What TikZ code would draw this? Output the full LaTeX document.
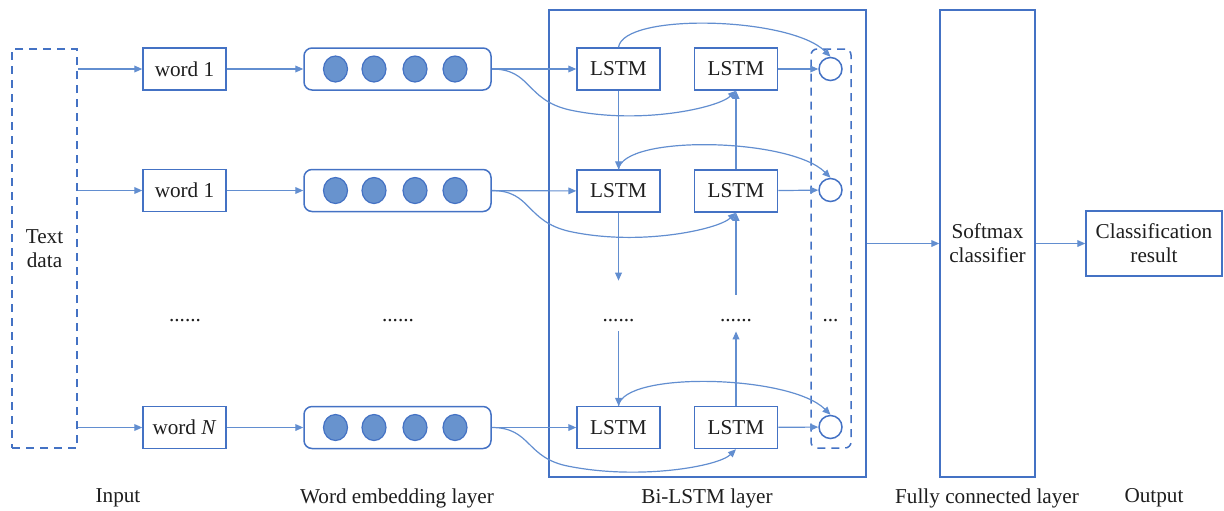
\documentclass[tikz,border=0pt]{standalone}
\usepackage{fontspec}
\setmainfont{Liberation Serif}
\usetikzlibrary{arrows.meta,shapes.geometric}
\definecolor{bord}{RGB}{68,114,196}
\definecolor{arrc}{RGB}{98,142,208}
\definecolor{dotf}{RGB}{104,147,206}
\definecolor{txt}{RGB}{30,30,30}
\begin{document}
\begin{tikzpicture}[x=0.5pt,y=-0.5pt,
  every node/.style={text=txt,font=\fontsize{10.6}{12}\selectfont},
  box/.style={draw=bord,line width=0.75pt,minimum width=41.5pt,minimum height=21pt,inner sep=0pt},
  dbox/.style={draw=bord,line width=0.75pt,dashed,dash pattern=on 4pt off 3pt,minimum width=32.5pt,minimum height=199.5pt,inner sep=0pt,align=center},
  embox/.style={draw=bord,line width=0.75pt,rounded corners=4pt,minimum width=93.5pt,minimum height=21pt,inner sep=0pt},
  emdot/.style={ellipse,draw=bord,line width=0.6pt,fill=dotf,minimum width=12pt,minimum height=13pt,inner sep=0pt},
  outc/.style={circle,draw=bord,line width=0.75pt,minimum size=11.5pt,inner sep=0pt},
  bigbox/.style={draw=bord,line width=0.75pt,minimum width=158.5pt,minimum height=233.5pt,inner sep=0pt},
  dots/.style={minimum height=10pt,inner sep=0pt},
  arr/.style={draw=arrc,line width=0.6pt,-{Triangle[length=4pt,width=3.4pt]}},
  lbl/.style={inner sep=0pt}
]
\useasboundingbox (0,0) rectangle (1224,510);

% input
\node[dbox] (text) at (44.5,248.5) {Text\\data};
\node[box] (w1) at (184.5,69) {word 1};
\node[box] (w2) at (184.5,190.5) {word 1};
\node[box] (wN) at (184.5,427.5) {word \textit{N}};
\node[dots] (wd) at (185,321) {......};

% embedding
\foreach \n/\y in {1/69,2/190.5,N/427.5}{
  \node[embox] (e\n) at (397.5,\y) {};
  \node[emdot] (c\n a) at (335.5,\y) {};
  \node[emdot] (c\n b) at (374,\y) {};
  \node[emdot] (c\n c) at (415,\y) {};
  \node[emdot] (c\n d) at (455,\y) {};
}
\node[dots] (ed) at (398,321) {......};

% Bi-LSTM
\node[bigbox] (bi) at (707.5,243.5) {};
\node[box] (f1) at (618.5,69) {LSTM};
\node[box] (b1) at (736,69) {LSTM};
\node[box] (f2) at (618.5,191) {LSTM};
\node[box] (b2) at (736,191) {LSTM};
\node[box] (fN) at (618.5,427.5) {LSTM};
\node[box] (bN) at (736,427.5) {LSTM};
\node[dots] (fd) at (618.5,321) {......};
\node[dots] (bd) at (736,321) {......};
\node[dots] (od) at (830.5,321) {...};
\node[draw=bord,line width=0.75pt,dashed,dash pattern=on 4pt off 3pt,rounded corners=3pt,minimum width=20pt,minimum height=199.5pt,inner sep=0pt] (obox) at (831,248.5) {};
\node[outc] (o1) at (830.5,69) {};
\node[outc] (o2) at (830.5,190) {};
\node[outc] (oN) at (830.5,427) {};

% fully connected / output
\node[draw=bord,line width=0.75pt,minimum width=47.5pt,minimum height=233.5pt,inner sep=0pt,align=center] (soft) at (987.5,243.5) {Softmax\\classifier};
\node[draw=bord,line width=0.75pt,minimum width=68pt,minimum height=32.5pt,inner sep=0pt,align=center] (res) at (1154,243.5) {Classification\\result};

% bottom labels
\node[lbl] (l1) at (118,498) {Input};
\node[lbl] (l2) at (397,498) {Word embedding layer};
\node[lbl] (l3) at (707,498) {Bi-LSTM layer};
\node[lbl] (l4) at (987,498) {Fully connected layer};
\node[lbl] (l5) at (1154,498) {Output};

% input arrows
\foreach \n in {1,2,N}{
  \draw[arr] (text.east |- w\n) -- (w\n);
  \draw[arr] (w\n) -- (e\n);
  \draw[arr] (e\n) -- (f\n);
  \draw[arr] (b\n) -- (o\n);
}
% curves embedding -> backward LSTM
\draw[arr] (e1.east) .. controls (532,69) and (525,100) .. (570,110) .. controls (640,125) and (718,108) .. (b1.south);
\draw[arr] (e2.east) .. controls (532,190.5) and (525,221.5) .. (570,231.5) .. controls (640,246.5) and (718,229.5) .. (b2.south);
\draw[arr] (eN.east) .. controls (532,427.5) and (525,458.5) .. (570,466.5) .. controls (640,480) and (718,466.5) .. (bN.south);

% arcs forward LSTM -> outputs
\foreach \n in {1,2,N}{
  \draw[arr] (f\n.north) .. controls +(5,-35) and +(-40,-40) .. (o\n.north);
}

% forward chain
\draw[arr] (f1) -- (f2);
\draw[arr,shorten >=15pt] (f2) -- (fd);
\draw[arr] (fd) -- (fN);
% backward chain
\draw[arr] (bN) -- (bd);
\draw[arr,shorten <=8pt] (bd) -- (b2);
\draw[arr] (b2) -- (b1);

% to classifier
\draw[arr] (bi.east) -- (soft.west);
\draw[arr] (soft.east) -- (res.west);
\end{tikzpicture}
\end{document}
